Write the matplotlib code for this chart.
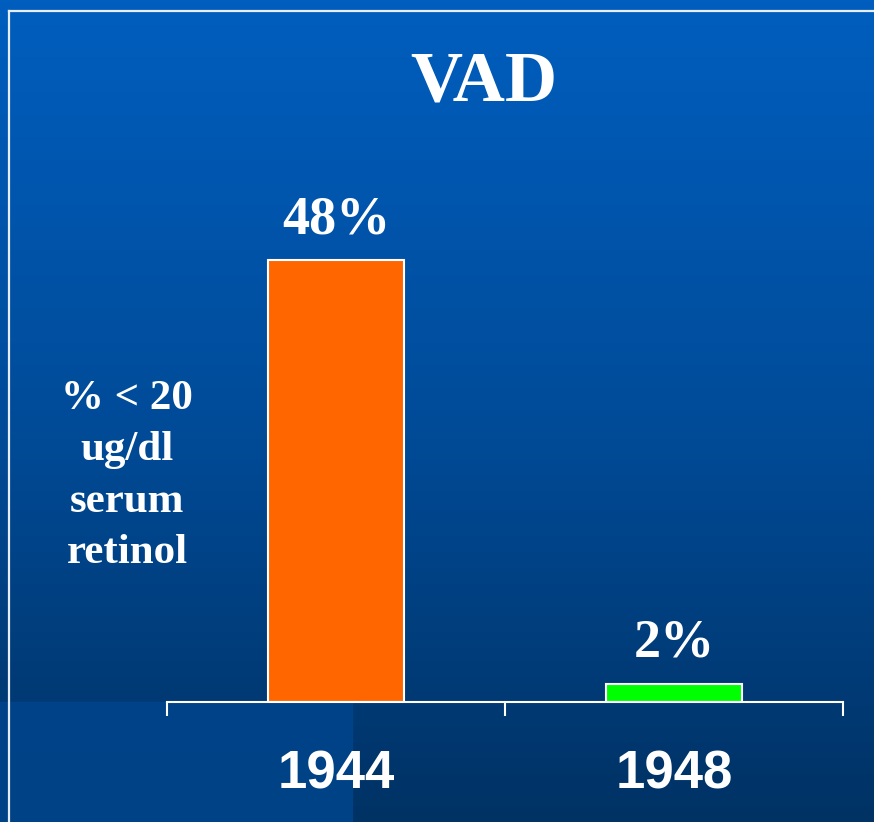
import numpy as np
import matplotlib
matplotlib.use("Agg")
import matplotlib.pyplot as plt
from matplotlib.lines import Line2D
from matplotlib.patches import Rectangle
from matplotlib.colors import LinearSegmentedColormap

years = ["1944", "1948"]
vad_pct = [48, 2]
bar_labels = ["48%", "2%"]
bar_colors = ["#FF6600", "#00FF00"]
title = "VAD"
ylabel = "% < 20\nug/dl\nserum\nretinol"

fig = plt.figure(figsize=(8.74, 8.22), dpi=100)

# slide background: vertical blue gradient
bg = fig.add_axes([0, 0, 1, 1])
bg.set_axis_off()
grad = np.linspace(0, 1, 256).reshape(-1, 1)
cmap = LinearSegmentedColormap.from_list("slide", ["#005EBE", "#004C9A", "#003264"])
bg.imshow(grad, aspect="auto", cmap=cmap, extent=[0, 1, 0, 1], origin="upper")
bg.add_patch(Rectangle((0, 0), 352 / 874, 120 / 822, color="#00448A", alpha=0.9))
bg.set_xlim(0, 1)
bg.set_ylim(0, 1)

# thin white frame, left and top
fig.add_artist(Line2D([9 / 874, 9 / 874], [0, 1 - 11 / 822], color="#E8EEF6", lw=1.6))
fig.add_artist(Line2D([9 / 874, 1], [1 - 11 / 822, 1 - 11 / 822], color="#E8EEF6", lw=1.6))

ax = fig.add_axes([167 / 874, 120 / 822, 676 / 874, 552 / 822])
ax.set_facecolor("none")
x = np.arange(len(years))
bars = ax.bar(x, vad_pct, width=0.4, color=bar_colors, edgecolor="white", linewidth=1.5)
ax.set_xlim(-0.5, 1.5)
ax.set_ylim(0, 60)

for b, lab in zip(bars, bar_labels):
    ax.annotate(lab, (b.get_x() + b.get_width() / 2, b.get_height()),
                xytext=(0, 29), textcoords="offset points", ha="center", va="center",
                color="white", fontsize=39, fontweight="bold", family="Liberation Serif")

for s in ["left", "right", "top"]:
    ax.spines[s].set_visible(False)
ax.spines["bottom"].set_color("white")
ax.spines["bottom"].set_linewidth(1.5)
ax.set_yticks([])
ax.set_xticks(x)
ax.set_xticklabels(years, color="white", fontsize=38, fontweight="bold", family="Liberation Sans")
ax.tick_params(axis="x", which="major", length=0, pad=34)
ax.set_xticks([-0.5, 0.5, 1.5], minor=True)
ax.tick_params(axis="x", which="minor", length=10, width=1.5, color="white")

fig.text(484 / 874, 1 - 83 / 822, title, ha="center", va="center",
         color="white", fontsize=52, fontweight="bold", family="Liberation Serif")
fig.text(127 / 874, 1 - 476 / 822, ylabel, ha="center", va="center", multialignment="center",
         color="white", fontsize=31, fontweight="bold", family="Liberation Serif", linespacing=1.46)

fig.savefig("out.png", dpi=100)
